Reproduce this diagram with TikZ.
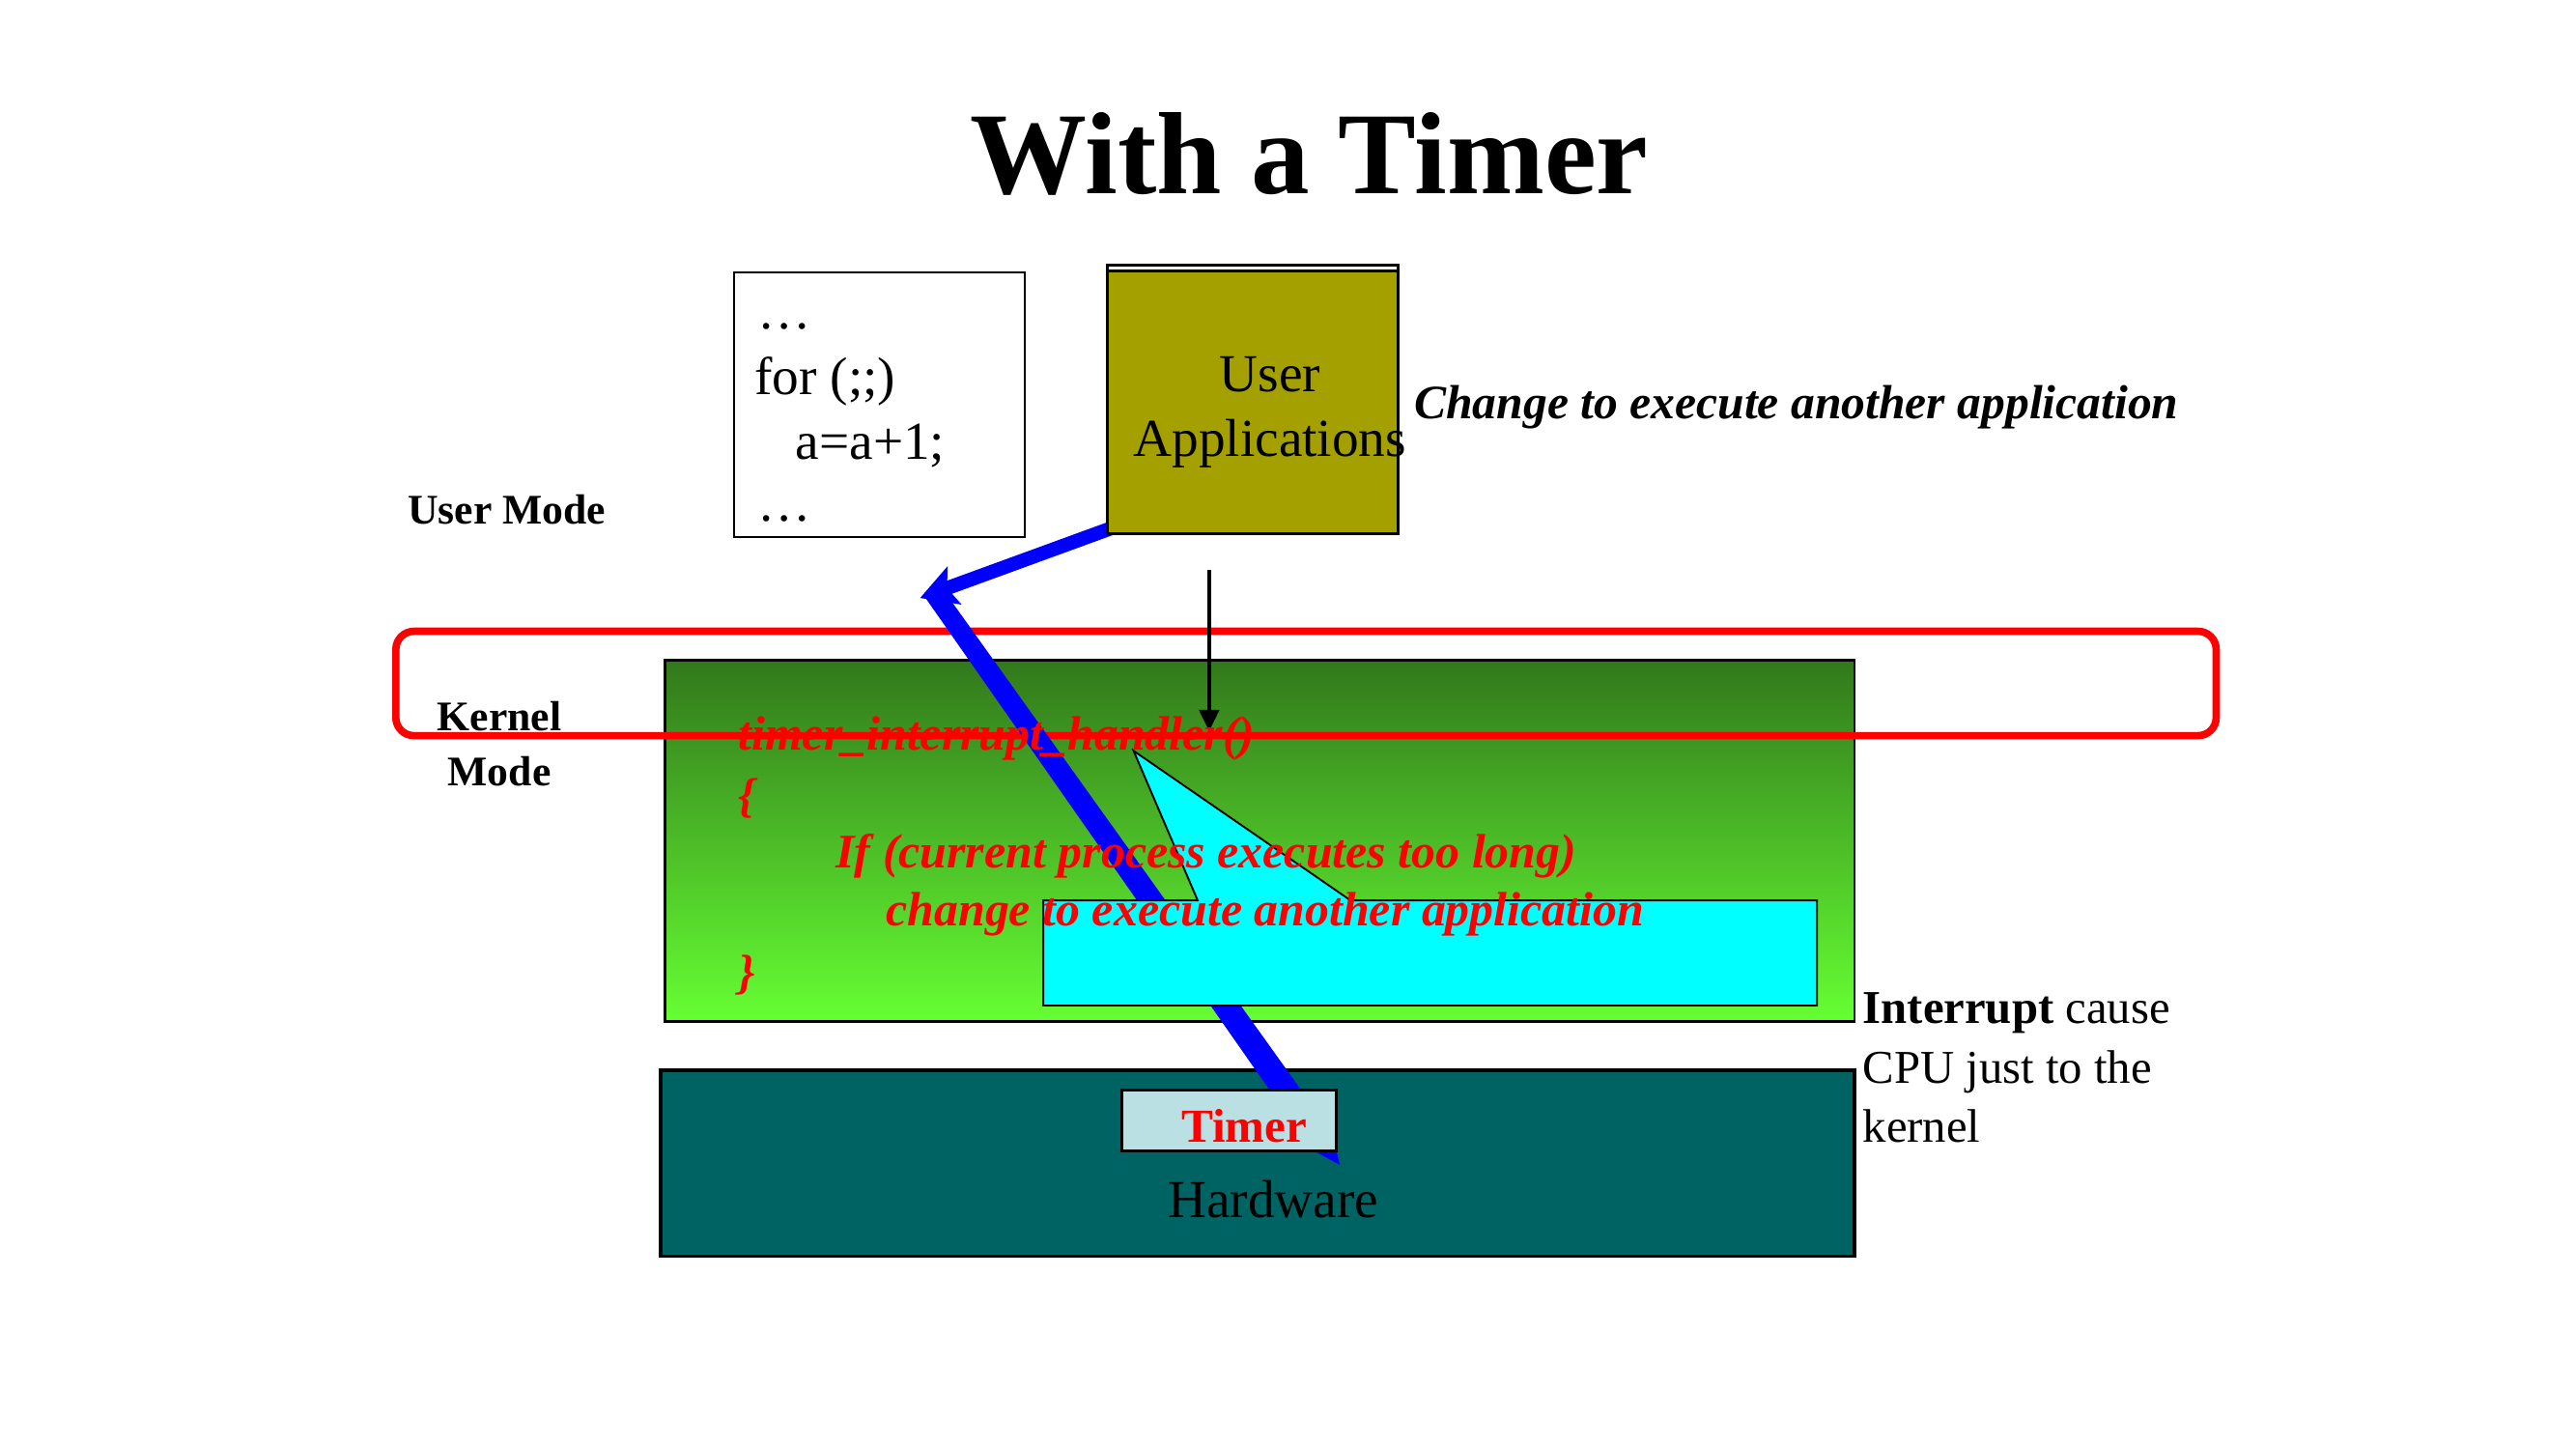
\documentclass[tikz,border=0pt]{standalone}
\usepackage{fontspec}
\setmainfont{Liberation Serif}
\usetikzlibrary{arrows.meta,calc}
\definecolor{olivebox}{RGB}{163,160,0}
\definecolor{kgreentop}{RGB}{50,120,28}
\definecolor{kgreenbot}{RGB}{102,255,51}
\definecolor{hwteal}{RGB}{0,99,99}
\definecolor{timerbg}{RGB}{187,224,227}
\definecolor{callcyan}{RGB}{0,255,255}
\definecolor{pureblue}{RGB}{0,0,255}
\definecolor{purered}{RGB}{255,0,0}
\tikzset{
  plainbox/.style={draw=black, line width=0.33mm, inner sep=0, anchor=north west},
  txt/.style={inner sep=0, anchor=base west},
  ctxt/.style={inner sep=0, anchor=base},
  codefont/.style={font=\fontsize{18.5}{22}\selectfont},
  redcode/.style={txt, text=purered, font=\fontsize{16.7}{20}\selectfont\bfseries\itshape},
  modefont/.style={font=\fontsize{14.6}{17}\selectfont\bfseries},
  blueline/.style={draw=pureblue, line width=1.7mm},
}
\begin{document}
\begin{tikzpicture}[x=0.2mm,y=-0.2mm]
\useasboundingbox (0,0) rectangle (1568,880);
\fill[white] (0,0) rectangle (1568,880);

% title
\node[ctxt, font=\fontsize{40.5}{48}\selectfont\bfseries] (title) at (797,118) {With a Timer};

% kernel box and hardware box
\node[plainbox, top color=kgreentop, bottom color=kgreenbot, minimum width=144.8mm, minimum height=44mm] (kernel) at (404,401) {};
\node[plainbox, fill=hwteal, line width=0.45mm, minimum width=145.3mm, minimum height=22.6mm] (hw) at (401,650.5) {};

% red mode boundary
\node[draw=purered, line width=0.9mm, rounded corners=2.2mm, inner sep=0, anchor=north west,
      minimum width=221.6mm, minimum height=12.7mm] (boundary) at (238.7,382) {};

% code box
\node[plainbox, fill=white, minimum width=35.4mm, minimum height=32.2mm] (code) at (446,165) {};

% blue switch path (lower part, tapering into the timer)
\fill[pureblue] (572,356) -- (811,690) -- (815.5,709) -- (798,699.5) -- (562,362) -- cycle;

% user applications box (outer frame + olive box)
\node[plainbox, fill=white, minimum width=35.4mm, minimum height=32.7mm] (uaframe) at (673,160.5) {};
\coordinate (swtip) at (560,364);
\draw[blueline, -{Stealth[length=4.4mm, width=4.8mm, inset=0.9mm]}] ($(uaframe.south west)+(3,-4)$) -- (swtip);
\node[plainbox, fill=olivebox, minimum width=35.4mm, minimum height=32mm] (ua) at (673,164) {};

% cyan callout
\draw[fill=callcyan, draw=black, line width=0.22mm] (635,548) -- (729,548) -- (690,457) -- (822,548)
  -- (1106,548) -- (1106,612) -- (635,612) -- cycle;

% timer box
\node[plainbox, fill=timerbg, minimum width=26.1mm, minimum height=7.4mm] (timer) at (682,662.5) {};

% black arrow into kernel
\coordinate (karrs) at (736,347);
\coordinate (karre) at (736,445);
\draw[line width=0.5mm, -{Triangle[length=2.6mm, width=2.4mm]}] (karrs) -- (karre);

% code box text
\node[txt, codefont] (c1) at (461,200) {…};
\node[txt, codefont] (c2) at (459,240) {for (;;)};
\node[txt, codefont] (c3) at (484,279.5) {a=a+1;};
\node[txt, codefont] (c4) at (461,317) {…};

% user applications text
\node[ctxt, codefont] (uat1) at (773,238.5) {User};
\node[ctxt, codefont] (uat2) at (773,278) {Applications};

% change label
\node[txt, font=\fontsize{16.6}{20}\selectfont\bfseries\itshape] (chg) at (860.5,255) {Change to execute another application};

% mode labels
\node[txt, modefont] (umode) at (248,319) {User Mode};
\node[ctxt, modefont] (kmode1) at (304,445) {Kernel};
\node[ctxt, modefont] (kmode2) at (304,478) {Mode};

% handler code
\node[redcode] (h1) at (449,456.5) {timer\_interrupt\_handler()};
\node[redcode] (h2) at (449,494) {\{};
\node[redcode] (h3) at (508.5,528) {If (current process executes too long)};
\node[redcode] (h4) at (539,563.3) {change to execute another application};
\node[redcode] (h5) at (449,601.5) {\}};

% hardware and timer text
\node[ctxt, codefont] (hwt) at (775,741) {Hardware};
\node[txt, text=purered, font=\fontsize{16.4}{20}\selectfont\bfseries] (tmt) at (719,695) {Timer};

% interrupt note
\node[txt, font=\fontsize{16.3}{20}\selectfont] (int1) at (1133.6,623) {\textbf{Interrupt} cause};
\node[txt, font=\fontsize{16.3}{20}\selectfont] (int2) at (1133.6,659.6) {CPU just to the};
\node[txt, font=\fontsize{16.3}{20}\selectfont] (int3) at (1133.6,695.5) {kernel};
\end{tikzpicture}
\end{document}
